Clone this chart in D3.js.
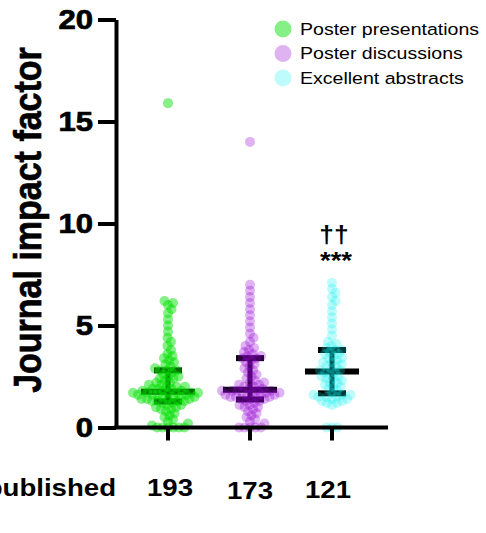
<!DOCTYPE html>
<html>
<head>
<meta charset="utf-8">
<script src="https://cdn.jsdelivr.net/npm/d3@7"></script>
<style>
  body { margin: 0; background: #fff; }
  svg { display: block; font-family: "Liberation Sans", Arial, sans-serif; }
</style>
</head>
<body>
<div class="chart"></div>
<script>
// groups, counts and ticks
const groups = ["Poster presentations", "Poster discussions", "Excellent abstracts"];
const counts = ["193", "173", "121"];
const yTicks = [0, 5, 10, 15, 20];
const colors = ["#00e000", "#9400d3", "#00eeee"];
const opacities = [0.48, 0.3, 0.25];

// journal impact factor per abstract
const posterPresentations = [
    0, 0, 0, 0, 0, 0, 0.1, 0.2, 0.3, 0.4, 0.5, 0.6, 0.7, 0.8, 0.9, 0.9, 1.0, 1.0, 1.1, 1.1, 1.2, 1.2,
    1.3, 1.3, 1.3, 1.3, 1.4, 1.4, 1.4, 1.4, 1.5, 1.5, 1.5, 1.5, 1.6, 1.6, 1.6, 1.6, 1.7, 1.7, 1.7, 1.7, 1.7, 1.7,
    1.8, 1.8, 1.8, 1.9, 1.9, 1.9, 2.0, 2.0, 2.0, 2.1, 2.1, 2.2, 2.2, 2.3, 2.4, 2.4, 2.5, 2.5, 2.6, 2.7, 2.8, 2.8,
    2.8, 2.9, 3.0, 3.1, 3.2, 3.3, 3.4, 3.5, 3.6, 3.8, 4.0, 4.2, 4.4, 4.7, 5.0, 5.3, 5.6, 5.8, 6.0, 6.1, 6.2, 15.9
];
const posterDiscussions = [
    0, 0, 0, 0, 0, 0.2, 0.3, 0.4, 0.5, 0.6, 0.7, 0.8, 0.9, 1.0, 1.0, 1.1, 1.1, 1.2, 1.3, 1.3,
    1.4, 1.4, 1.4, 1.5, 1.5, 1.5, 1.5, 1.6, 1.6, 1.6, 1.6, 1.7, 1.7, 1.7, 1.7, 1.8, 1.8, 1.8, 1.8, 1.8,
    1.9, 1.9, 2.0, 2.0, 2.1, 2.1, 2.2, 2.2, 2.3, 2.4, 2.5, 2.6, 2.7, 2.8, 2.9, 3.0, 3.1, 3.2, 3.3, 3.4,
    3.4, 3.5, 3.5, 3.6, 3.7, 3.8, 3.9, 4.0, 4.2, 4.4, 4.6, 4.9, 5.2, 5.5, 5.8, 6.1, 6.4, 6.7, 7.0, 14.0
];
const excellentAbstracts = [
    0, 0, 0, 1.1, 1.2, 1.2, 1.3, 1.3, 1.4, 1.4, 1.5, 1.5, 1.5, 1.6, 1.6, 1.6,
    1.7, 1.8, 1.9, 2.0, 2.0, 2.1, 2.2, 2.2, 2.3, 2.4, 2.4, 2.5, 2.5, 2.6, 2.7, 2.7,
    2.8, 2.8, 2.9, 3.0, 3.0, 3.1, 3.2, 3.2, 3.3, 3.4, 3.4, 3.5, 3.6, 3.6, 3.7, 3.8,
    3.8, 3.9, 4.0, 4.1, 4.2, 4.5, 4.8, 5.1, 5.4, 5.7, 6.0, 6.2, 6.4, 6.6, 6.8, 7.1
];
const series = [posterPresentations, posterDiscussions, excellentAbstracts];

const width = 486, height = 533;
const stretch = 1.15; // the figure's text is a little wider than tall

const svg = d3.select(".chart")
    .append("svg")
    .attr("width", width)
    .attr("height", height);

const y = d3.scaleLinear().domain([0, 20]).range([427.5, 19.5]);
const x = d3.scalePoint().domain(groups).range([168, 332]);
const axisX0 = 116, axisX1 = 388;

// simple dodge layout: each dot goes as close to the centre as it can
function swarm(values, cx, rc){
    const pts = values.map(v => ({v: v, y: y(v)})).sort((a, b) => a.v - b.v);
    const placed = [];
    pts.forEach(p => {
        for(let k = 0; k < 200; k++){
            const off = k === 0 ? [0] : [k * 0.5, -k * 0.5];
            let ok = false;
            for(const o of off){
                const px = cx + o;
                const clash = placed.some(q => {
                    const dx = q.x - px, dy = q.y - p.y;
                    return dx * dx + dy * dy < 4 * rc * rc;
                });
                if(!clash){ p.x = px; ok = true; break; }
            }
            if(ok) break;
        }
        placed.push(p);
    });
    return placed;
}

// error bars: median with interquartile range
series.forEach((vals, i) => {
    const s = vals.slice().sort(d3.ascending);
    const q1 = d3.quantile(s, 0.25), med = d3.quantile(s, 0.5), q3 = d3.quantile(s, 0.75);
    const cx = x(groups[i]);
    const g = svg.append("g").attr("stroke", "#000");
    g.append("line").attr("x1", cx).attr("x2", cx).attr("y1", y(q1)).attr("y2", y(q3)).attr("stroke-width", 5);
    g.append("line").attr("x1", cx - 27).attr("x2", cx + 27).attr("y1", y(med)).attr("y2", y(med)).attr("stroke-width", 6);
    [q1, q3].forEach(q => {
        g.append("line").attr("x1", cx - 14).attr("x2", cx + 14).attr("y1", y(q)).attr("y2", y(q)).attr("stroke-width", 6);
    });
});

// dots
series.forEach((vals, i) => {
    svg.append("g")
        .selectAll("circle")
        .data(swarm(vals, x(groups[i]), 2.6))
        .enter()
        .append("circle")
        .attr("cx", d => d.x)
        .attr("cy", d => d.y)
        .attr("r", 5)
        .attr("fill", colors[i])
        .attr("fill-opacity", opacities[i]);
});

// y axis
const yAxis = svg.append("g")
    .attr("transform", "translate(" + axisX0 + ",0)")
    .call(d3.axisLeft(y).tickValues(yTicks).tickSize(18).tickSizeOuter(0).tickPadding(6));
yAxis.select(".domain").attr("stroke-width", 4).attr("stroke", "#000");
yAxis.selectAll(".tick line").attr("stroke-width", 4).attr("stroke", "#000");
yAxis.selectAll(".tick text")
    .attr("x", null)
    .attr("fill", "#000")
    .attr("stroke", "#000")
    .attr("stroke-width", 0.7)
    .style("font-size", "27px")
    .style("font-weight", "bold")
    .style("font-family", "'Liberation Sans', Arial, sans-serif")
    .attr("transform", "translate(-23,0) scale(" + stretch + ",1)");

// x axis
svg.append("line")
    .attr("x1", axisX0 - 2).attr("x2", axisX1)
    .attr("y1", y(0)).attr("y2", y(0))
    .attr("stroke", "#000").attr("stroke-width", 4);
svg.append("g").selectAll("line")
    .data(groups)
    .enter()
    .append("line")
    .attr("x1", d => x(d)).attr("x2", d => x(d))
    .attr("y1", y(0)).attr("y2", y(0) + 13)
    .attr("stroke", "#000").attr("stroke-width", 4);

// y label
svg.append("text")
    .attr("transform", "translate(41," + 220 + ") scale(" + stretch + ",1) rotate(-90)")
    .attr("text-anchor", "middle")
    .attr("stroke", "#000")
    .attr("stroke-width", 0.6)
    .style("font-size", "34px")
    .style("font-weight", "bold")
    .text("Journal impact factor");

// counts row
svg.append("text")
    .attr("transform", "translate(116,496) scale(" + stretch + ",1)")
    .attr("text-anchor", "end")
    .style("font-size", "24px")
    .style("font-weight", "bold")
    .text("Number published");
svg.append("g").selectAll("text")
    .data(counts)
    .enter()
    .append("text")
    .attr("transform", (d, i) => "translate(" + (x(groups[i]) + [2, 0, -4][i]) + "," + [496, 499, 498][i] + ") scale(" + stretch + ",1)")
    .attr("text-anchor", "middle")
    .style("font-size", "24px")
    .style("font-weight", "bold")
    .text(d => d);

// significance marks above excellent abstracts
svg.append("text")
    .attr("transform", "translate(334,243) scale(" + stretch + ",1)")
    .attr("text-anchor", "middle")
    .style("font-size", "23px")
    .style("font-weight", "bold")
    .text("††");
svg.append("text")
    .attr("transform", "translate(336,269) scale(" + stretch + ",1)")
    .attr("text-anchor", "middle")
    .style("font-size", "24px")
    .style("font-weight", "bold")
    .text("***");

// legend
const legend = svg.append("g").selectAll("g")
    .data(groups)
    .enter()
    .append("g")
    .attr("transform", (d, i) => "translate(283," + (29 + i * 24.5) + ")");
legend.append("circle")
    .attr("r", 8.5)
    .attr("fill", (d, i) => colors[i])
    .attr("fill-opacity", (d, i) => opacities[i]);
legend.append("text")
    .attr("transform", "translate(17,0) scale(" + stretch + ",1)")
    .attr("dy", "0.35em")
    .style("font-size", "17px")
    .text(d => d);
</script>
</body>
</html>
